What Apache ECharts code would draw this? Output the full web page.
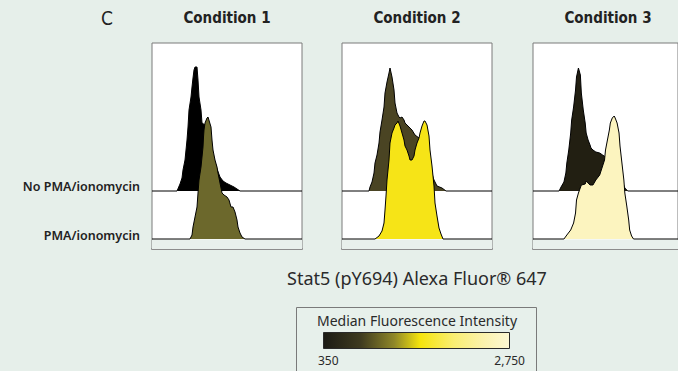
<!DOCTYPE html>
<html>
<head>
<meta charset="utf-8">
<title>Stat5 (pY694) histograms</title>
<script src="https://cdn.jsdelivr.net/npm/echarts@6/dist/echarts.min.js"></script>
<style>
  html, body { margin: 0; padding: 0; background: #e6efea; }
  #chart { width: 678px; height: 371px; }
</style>
</head>
<body>
<div id="chart"></div>
<script>
const conditions = ['Condition 1', 'Condition 2', 'Condition 3'];
const rowLabels = ['No PMA/ionomycin', 'PMA/ionomycin'];
const axisTitle = 'Stat5 (pY694) Alexa Fluor® 647';
const scaleTitle = 'Median Fluorescence Intensity';
const scaleLabels = ['350', '2,750'];

// histograms as [channel, count]
const noPma1 = [[25,0],[28,7],[30,13],[31,21],[33,31],[34,41],[35,51],[36,64],[37,81],[39,94],[40,104],[41,113],[42,121],[43,124],[45,124],[46,111],[47,94],[49,81],[50,68],[53,66],[56,55],[59,42],[62,32],[65,22],[68,14],[71,10],[74,8],[78,6],[82,4],[85,2],[88,0]];
const pma1 = [[38,0],[40,4],[41,12],[43,22],[45,32],[46,46],[47,59],[49,72],[50,82],[51,92],[51.5,102],[52,109],[53,116],[55,121],[56,122],[59,112],[60,99],[61,89],[63,79],[65,72],[66,66],[68,56],[70,46],[72,44],[75,42],[77,39],[79,32],[81,32],[83,27],[85,19],[86,12],[88,6],[90,2],[93,0]];

const noPma2 = [[27,0],[28,4],[30,9],[32,18],[33,28],[35,36],[37,48],[38,59],[40,71],[42,84],[43,98],[45,109],[47,118],[48,123],[50,114],[52,101],[53,88],[55,78],[57,74],[58,73],[60,74],[62,71],[63,68],[65,66],[67,64],[70,61],[73,56],[77,53],[80,46],[84,38],[88,25],[91,14],[92,11],[95,5],[100,3],[104,0]];
const pma2 = [[33,0],[37,3],[40,8],[42,16],[43,29],[44,43],[45,59],[47,79],[48,96],[50,106],[52,111],[53,114],[55,116],[56,118],[58,113],[60,106],[62,99],[63,93],[65,89],[67,83],[68,79],[70,79],[72,83],[73,89],[75,96],[77,101],[78,106],[80,113],[82,118],[83,118],[85,114],[87,103],[88,89],[90,73],[92,53],[93,36],[95,23],[97,11],[99,5],[101,0]];

const noPma3 = [[27,0],[29,4],[32,9],[34,18],[35,28],[37,41],[39,58],[40,71],[42,84],[44,101],[45,114],[47,123],[49,116],[50,98],[52,81],[54,68],[55,58],[57,51],[59,46],[60,43],[62,41],[65,39],[69,38],[72,36],[75,34],[78,32],[82,28],[86,22],[90,15],[93,8],[95,3],[98,0]];
const pma3 = [[32,0],[35,4],[39,9],[42,16],[44,26],[45,39],[47,46],[50,54],[54,55],[55,58],[59,54],[62,54],[65,59],[69,64],[72,73],[74,79],[75,89],[77,99],[79,109],[80,116],[82,121],[84,123],[85,121],[87,116],[89,106],[90,93],[92,76],[94,59],[95,46],[97,33],[99,19],[100,9],[102,3],[104,0]];

const noPmaData = [noPma1, noPma2, noPma3];
const pmaData = [pma1, pma2, pma3];
const noPmaColor = ['#000000', '#4a4423', '#221f12'];
const pmaColor = ['#6c682c', '#f6e417', '#fcf4bf'];

const chart = echarts.init(document.getElementById('chart'), null, { renderer: 'svg' });

const xMax = 150;
const offset = 48;   // the upper histogram sits this far above the lower one
const panelLeft = [152, 342, 533];
const panelW = 150;
const condFont = '"DejaVu Sans Condensed", "Liberation Sans Narrow", sans-serif';
const bodyFont = '"Noto Sans", "Open Sans", sans-serif';

let grids = [], xAxes = [], yAxes = [], series = [];
for (let i = 0; i < 3; i++) {
  grids.push({ left: panelLeft[i], top: 43, width: panelW, height: 206,
    show: true, backgroundColor: '#ffffff', borderColor: '#7a7a7a', borderWidth: 1 });
  xAxes.push({ gridIndex: i, type: 'value', min: 0, max: xMax,
    axisLabel: { show: false }, axisTick: { show: false }, splitLine: { show: false },
    axisLine: { show: true, onZero: false, lineStyle: { color: '#8c8c8c', width: 2 } } });
  yAxes.push({ gridIndex: i, type: 'value', min: -10, max: 196, show: false });

  let top = [[0, 0]].concat(noPmaData[i], [[xMax, 0]]).map(p => [p[0], p[1] + offset]);
  series.push({
    type: 'line', xAxisIndex: i, yAxisIndex: i, data: top,
    symbol: 'none', z: 2, silent: true,
    lineStyle: { color: '#000', width: 1 },
    areaStyle: { color: noPmaColor[i], opacity: 1, origin: offset }
  });
  series.push({
    type: 'line', xAxisIndex: i, yAxisIndex: i,
    data: [[0, 0]].concat(pmaData[i], [[xMax, 0]]),
    symbol: 'none', z: 3, silent: true,
    lineStyle: { color: '#000', width: 1 },
    areaStyle: { color: pmaColor[i], opacity: 1, origin: 0 },
    markArea: { silent: true, itemStyle: { color: '#e8f0ec' },
      data: [[{ yAxis: -10 }, { yAxis: -0.6 }]] }
  });
}

let graphics = [
  { type: 'text', style: { text: 'C', x: 107, y: 18, fill: '#222', font: '19px "Liberation Sans Narrow", ' + condFont, textAlign: 'center', verticalAlign: 'middle' } },
  { type: 'text', style: { text: rowLabels[0], x: 140, y: 186, fill: '#222', font: '600 12.5px ' + bodyFont, textAlign: 'right', verticalAlign: 'middle' } },
  { type: 'text', style: { text: rowLabels[1], x: 140, y: 235, fill: '#222', font: '600 12.5px ' + bodyFont, textAlign: 'right', verticalAlign: 'middle' } },
  { type: 'text', style: { text: axisTitle, x: 417, y: 278, fill: '#2a2a2a', font: '18px ' + bodyFont, textAlign: 'center', verticalAlign: 'middle' } },
  { type: 'rect', shape: { x: 296.5, y: 307.5, width: 240, height: 70 }, style: { fill: '#e7f0eb', stroke: '#7a7a7a', lineWidth: 1 } },
  { type: 'text', style: { text: scaleTitle, x: 417, y: 320, fill: '#2a2a2a', font: '14px ' + bodyFont, textAlign: 'center', verticalAlign: 'middle' } },
  { type: 'rect', shape: { x: 323.5, y: 332.5, width: 186, height: 16 },
    style: { stroke: '#2a2a2a', lineWidth: 1,
      fill: new echarts.graphic.LinearGradient(0, 0, 1, 0, [
        { offset: 0, color: '#1b1a14' },
        { offset: 0.2, color: '#3f3b20' },
        { offset: 0.38, color: '#8f8728' },
        { offset: 0.52, color: '#f5e40c' },
        { offset: 0.7, color: '#f9ee72' },
        { offset: 0.86, color: '#fbf2ac' },
        { offset: 1, color: '#fdf8d4' }
      ]) } },
  { type: 'text', style: { text: scaleLabels[0], x: 318, y: 360, fill: '#2a2a2a', font: '12px ' + bodyFont, textAlign: 'left', verticalAlign: 'middle' } },
  { type: 'text', style: { text: scaleLabels[1], x: 525, y: 360, fill: '#2a2a2a', font: '12px ' + bodyFont, textAlign: 'right', verticalAlign: 'middle' } }
];
for (let i = 0; i < 3; i++) {
  graphics.push({ type: 'text', style: { text: conditions[i], x: panelLeft[i] + panelW / 2, y: 18, fill: '#222',
    font: 'bold 15px ' + condFont, textAlign: 'center', verticalAlign: 'middle' } });
}

chart.setOption({
  backgroundColor: '#e6efea',
  animation: false,
  grid: grids,
  xAxis: xAxes,
  yAxis: yAxes,
  series: series,
  graphic: graphics
});
</script>
</body>
</html>
